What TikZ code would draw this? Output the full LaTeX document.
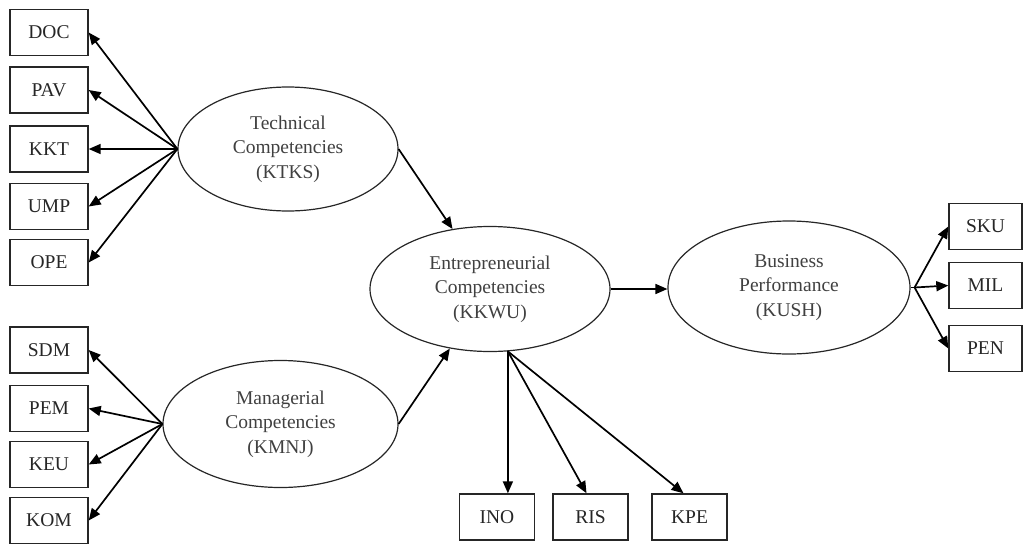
\documentclass[tikz,border=0pt]{standalone}
\usepackage{fontspec}
\setmainfont{Liberation Serif}
\usetikzlibrary{shapes.geometric,arrows.meta}
\begin{document}
\begin{tikzpicture}[x=1pt,y=-1pt,
  box/.style={draw=black!85,line width=1.4pt,rectangle,inner sep=0pt,
    minimum width=78pt,minimum height=46pt,text=black!85,
    font=\fontsize{19.5}{24}\selectfont},
  lat/.style={draw=black!85,line width=1.2pt,ellipse,inner sep=0pt,
    align=center,text=black!75,font=\fontsize{19.5}{24.5}\selectfont},
  arr/.style={line width=1.7pt,-{Triangle[length=12pt,width=10pt]}}]
\useasboundingbox (0,0) rectangle (1028,544);
% latent variables
\node[lat,minimum width=220pt,minimum height=124pt] (tech) at (288,149) {Technical\\Competencies\\(KTKS)};
\node[lat,minimum width=235pt,minimum height=127pt] (mgr) at (280.5,424) {Managerial\\Competencies\\(KMNJ)};
\node[lat,minimum width=240pt,minimum height=125pt] (ent) at (490,289) {Entrepreneurial\\Competencies\\(KKWU)};
\node[lat,minimum width=242pt,minimum height=133pt] (bus) at (789,287.5) {Business\\Performance\\(KUSH)};
% left indicators
\node[box] (doc) at (49,32.5) {DOC};
\node[box] (pav) at (49,90) {PAV};
\node[box] (kkt) at (49,149) {KKT};
\node[box] (ump) at (49,206.5) {UMP};
\node[box] (ope) at (49,262.5) {OPE};
\node[box] (sdm) at (49,350) {SDM};
\node[box] (pem) at (49,408.5) {PEM};
\node[box] (keu) at (49,464.5) {KEU};
\node[box] (kom) at (49,520.5) {KOM};
% bottom indicators
\node[box,minimum width=75pt] (ino) at (497,517) {INO};
\node[box,minimum width=75pt] (ris) at (590.5,517) {RIS};
\node[box,minimum width=75pt] (kpe) at (689.5,517) {KPE};
% right indicators
\node[box,minimum width=73pt] (sku) at (985.5,226.5) {SKU};
\node[box,minimum width=73pt] (mil) at (985.5,285.5) {MIL};
\node[box,minimum width=73pt] (pen) at (985.5,348.5) {PEN};
% measurement arrows
\foreach \b in {doc,pav,kkt,ump,ope} \draw[arr] (tech.west) -- (\b.east);
\foreach \b in {sdm,pem,keu,kom} \draw[arr] (mgr.west) -- (\b.east);
% structural paths
\draw[arr] (tech.east) -- (ent.122);
\draw[arr] (mgr.east) -- (ent.236);
\draw[arr] (ent.east) -- (ent.east -| bus.west);
% entrepreneurial indicators
\coordinate (es) at (ent.286);
\draw[arr] (es) -- (es |- ino.north);
\draw[arr] (es) -- ([xshift=-4pt]ris.north);
\draw[arr] (es) -- ([xshift=-6pt]kpe.north);
% business indicators
\coordinate (bs) at ([xshift=4pt]bus.east);
\draw[line width=1.7pt] (bus.east) -- (bs);
\foreach \b in {sku,mil,pen} \draw[arr] (bs) -- (\b.west);
\end{tikzpicture}
\end{document}
